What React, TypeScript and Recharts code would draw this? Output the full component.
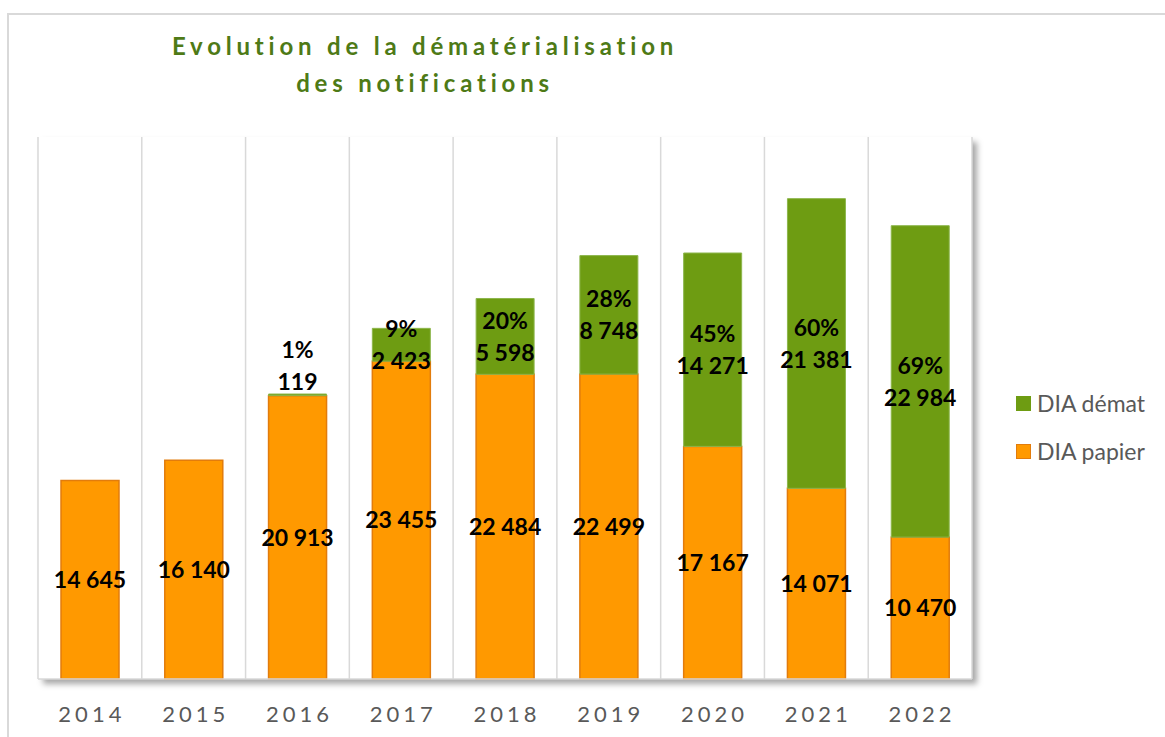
import { Bar, BarChart, CartesianGrid, LabelList, Legend, XAxis, YAxis } from 'recharts';

const years = ['2014', '2015', '2016', '2017', '2018', '2019', '2020', '2021', '2022'];
const papier = [14645, 16140, 20913, 23455, 22484, 22499, 17167, 14071, 10470];
const demat = [0, 0, 119, 2423, 5598, 8748, 14271, 21381, 22984];
const dematPct = ['', '', '1%', '9%', '20%', '28%', '45%', '60%', '69%'];

const seriesNames = { demat: 'DIA démat', papier: 'DIA papier' };

const data = years.map((year, i) => ({ year, papier: papier[i], demat: demat[i] }));

const FONT = 'Lato, "Open Sans", sans-serif';
const ORANGE = '#FF9900';
const ORANGE_EDGE = '#E27C0C';
const GREEN = '#6E9C12';
const GREEN_EDGE = '#8DB64C';

const fmt = (n: number) => String(n).replace(/\B(?=(\d{3})+(?!\d))/g, ' ');

const PapierLabel = (props: any) => {
  const { x, y, width, height, value } = props;
  return (
    <text
      x={x + width / 2}
      y={y + height / 2}
      dy="0.36em"
      textAnchor="middle"
      fontFamily={FONT}
      fontWeight={700}
      fontSize={23}
      fill="#000"
    >
      {fmt(Number(value))}
    </text>
  );
};

const DematLabel = (props: any) => {
  const { x, y, width, height, value } = props;
  const v = Number(value);
  if (!v) return null;
  const pct = dematPct[demat.indexOf(v)];
  const cx = x + width / 2;
  // tiny segments get their label lifted above the bar
  const mid = height < 10 ? y - 28 : y + height / 2;
  return (
    <g fontFamily={FONT} fontWeight={700} fontSize={23} fill="#000" textAnchor="middle">
      <text x={cx} y={mid - 16} dy="0.36em">
        {pct}
      </text>
      <text x={cx} y={mid + 16} dy="0.36em">
        {fmt(v)}
      </text>
    </g>
  );
};

const LegendBox = () => {
  const items = [
    { name: seriesNames.demat, fill: GREEN, edge: GREEN },
    { name: seriesNames.papier, fill: ORANGE, edge: ORANGE_EDGE },
  ];
  return (
    <div style={{ fontFamily: FONT, fontSize: 23, color: '#595959' }}>
      {items.map((it) => (
        <div key={it.name} style={{ display: 'flex', alignItems: 'center', height: 48 }}>
          <span
            style={{
              display: 'inline-block',
              width: 13,
              height: 13,
              background: it.fill,
              border: `1.5px solid ${it.edge}`,
              marginRight: 6,
            }}
          />
          <span>{it.name}</span>
        </div>
      ))}
    </div>
  );
};

export default function App() {
  return (
    <div
      style={{
        position: 'fixed',
        left: 0,
        top: 0,
        width: 1165,
        height: 737,
        overflow: 'hidden',
        background: '#fff',
      }}
    >
      <div
        style={{
          position: 'absolute',
          left: 7,
          top: 13,
          width: 1200,
          height: 800,
          borderLeft: '2px solid #D9D9D9',
          borderTop: '2px solid #D9D9D9',
        }}
      />
      <div
        style={{
          position: 'absolute',
          left: 38,
          top: 137,
          width: 934,
          height: 542,
          background: '#fff',
          boxShadow: '5px 5px 6px rgba(0,0,0,0.35)',
        }}
      />
      <div
        style={{
          position: 'absolute',
          left: 120,
          top: 27,
          width: 600,
          textAlign: 'center',
          fontFamily: FONT,
          fontWeight: 700,
          fontSize: 24,
          lineHeight: '37px',
          letterSpacing: 4.8,
          color: '#4E7A16',
          paddingLeft: 5,
        }}
      >
        Evolution de la dématérialisation
        <br />
        des notifications
      </div>
      <div style={{ position: 'absolute', left: 0, top: 0 }}>
        <BarChart
          width={1165}
          height={737}
          data={data}
          margin={{ top: 137, right: 193, bottom: 18, left: 38 }}
          barSize={58}
        >
          <CartesianGrid
            horizontal={false}
            stroke="#D9D9D9"
            strokeWidth={1.5}
            verticalCoordinatesGenerator={({ offset }: any) =>
              Array.from(
                { length: years.length + 1 },
                (_, i) => offset.left + (i * offset.width) / years.length,
              )
            }
          />
          <XAxis
            dataKey="year"
            height={40}
            axisLine={{ stroke: '#D9D9D9', strokeWidth: 1.5 }}
            tickLine={false}
            tickSize={0}
            tickMargin={27}
            interval={0}
            tick={{
              fontFamily: FONT,
              fontSize: 22,
              fill: '#595959',
              letterSpacing: 4,
              dx: 2,
            }}
          />
          <YAxis hide domain={[0, 40000]} />
          <Legend
            layout="horizontal"
            verticalAlign="middle"
            align="center"
            content={<LegendBox />}
            wrapperStyle={{ left: 1016, top: 379, width: 150 }}
          />
          <Bar
            dataKey="papier"
            name={seriesNames.papier}
            stackId="a"
            fill={ORANGE}
            stroke={ORANGE_EDGE}
            strokeWidth={1.5}
            isAnimationActive={false}
          >
            <LabelList dataKey="papier" content={<PapierLabel />} />
          </Bar>
          <Bar
            dataKey="demat"
            name={seriesNames.demat}
            stackId="a"
            fill={GREEN}
            stroke={GREEN_EDGE}
            strokeWidth={1}
            isAnimationActive={false}
          >
            <LabelList dataKey="demat" content={<DematLabel />} />
          </Bar>
        </BarChart>
      </div>
    </div>
  );
}
